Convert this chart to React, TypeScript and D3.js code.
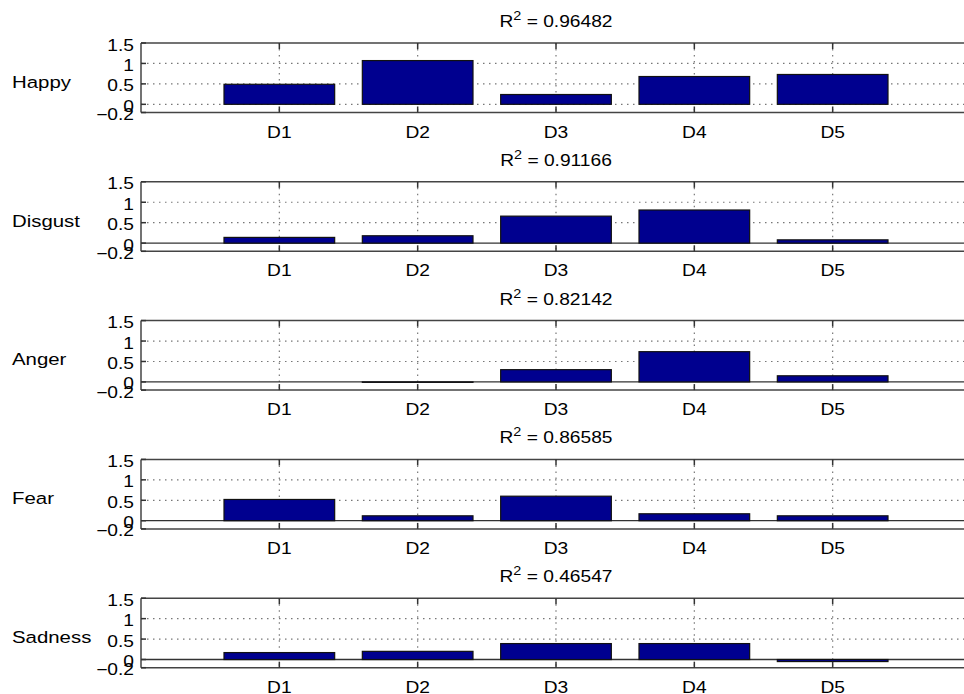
import React, { useEffect, useRef } from "react";
import * as d3 from "d3";

// categories and labels
const categories = ["D1", "D2", "D3", "D4", "D5"];
const emotions = ["Happy", "Disgust", "Anger", "Fear", "Sadness"];
const r2Labels = ["0.96482", "0.91166", "0.82142", "0.86585", "0.46547"];
const yTicks = [-0.2, 0, 0.5, 1, 1.5];
const yTickLabels = ["\u22120.2", "0", "0.5", "1", "1.5"];

// bar values
const happy = [0.49, 1.07, 0.24, 0.68, 0.73];
const disgust = [0.14, 0.18, 0.66, 0.81, 0.08];
const anger = [0, -0.01, 0.3, 0.74, 0.15];
const fear = [0.52, 0.12, 0.6, 0.17, 0.12];
const sadness = [0.17, 0.2, 0.39, 0.39, -0.05];

const series = [happy, disgust, anger, fear, sadness];

const W = 964, H = 694;
const font = "'Liberation Sans', Arial, Helvetica, sans-serif";
const stretch = 1.2; // the source glyphs are wider than Arial

const App = () => {
    const svgRef = useRef<SVGSVGElement>(null);

    useEffect(() => {
        const svg = d3.select(svgRef.current);
        svg.selectAll("*").remove();

        const left = 141, right = 971;
        const panelH = 69.5, panelStep = 138.8, firstTop = 43;

        // texte étiré horizontalement
        const label = (g, px, py, txt, size, anchor = "start") =>
            g.append("text")
                .attr("transform", `translate(${px},${py}) scale(${stretch},1)`)
                .attr("text-anchor", anchor)
                .style("font-family", font).style("font-size", size + "px")
                .text(txt);

        // x: positions 0..6, categories at 1..5
        const x = d3.scaleLinear().domain([0, 6]).range([left, right]);
        const barW = (x(1) - x(0)) * 0.8;

        series.forEach((values, i) => {
            const top = firstTop + i * panelStep;
            const bottom = top + panelH;
            const y = d3.scaleLinear().domain([-0.2, 1.5]).range([bottom, top]);
            const g = svg.append("g");

            // grid (dotted)
            const gridY = i === 0 ? [0, 0.5, 1] : [0.5, 1];
            g.selectAll("line.gy").data(gridY).enter().append("line")
                .attr("x1", left).attr("x2", right)
                .attr("y1", d => y(d)).attr("y2", d => y(d))
                .attr("stroke", "#777").attr("stroke-width", 1.2)
                .attr("stroke-dasharray", "1.5,4.5");
            g.selectAll("line.gx").data(categories).enter().append("line")
                .attr("x1", (d, j) => x(j + 1)).attr("x2", (d, j) => x(j + 1))
                .attr("y1", top).attr("y2", bottom)
                .attr("stroke", "#777").attr("stroke-width", 1.2)
                .attr("stroke-dasharray", "1.5,4.5");

            // baseline at zero
            if (i > 0) {
                g.append("line")
                    .attr("x1", left).attr("x2", right)
                    .attr("y1", y(0)).attr("y2", y(0))
                    .attr("stroke", "#333").attr("stroke-width", 1.3);
            }

            // bars
            g.selectAll("rect.bar").data(values).enter().append("rect")
                .attr("x", (d, j) => x(j + 1) - barW / 2)
                .attr("width", barW)
                .attr("y", d => y(Math.max(0, d)))
                .attr("height", d => Math.abs(y(d) - y(0)))
                .attr("fill", "#00008f")
                .attr("stroke", "#111")
                .attr("stroke-width", 1.2);

            // frame
            g.append("line").attr("x1", left).attr("x2", right).attr("y1", top).attr("y2", top)
                .attr("stroke", "#444").attr("stroke-width", 1.5);
            g.append("line").attr("x1", left).attr("x2", right).attr("y1", bottom).attr("y2", bottom)
                .attr("stroke", "#444").attr("stroke-width", 1.5);
            g.append("line").attr("x1", left).attr("x2", left).attr("y1", top).attr("y2", bottom)
                .attr("stroke", "#444").attr("stroke-width", 1.5);

            // x ticks (inward, top and bottom)
            categories.forEach((c, j) => {
                g.append("line").attr("x1", x(j + 1)).attr("x2", x(j + 1))
                    .attr("y1", bottom).attr("y2", bottom - 6)
                    .attr("stroke", "#333").attr("stroke-width", 1.5);
                g.append("line").attr("x1", x(j + 1)).attr("x2", x(j + 1))
                    .attr("y1", top).attr("y2", top + 6)
                    .attr("stroke", "#333").attr("stroke-width", 1.5);
                label(g, x(j + 1), bottom + 25, c, 16, "middle");
            });

            // y ticks
            yTicks.forEach((t, k) => {
                g.append("line").attr("x1", left).attr("x2", left + 5)
                    .attr("y1", y(t)).attr("y2", y(t))
                    .attr("stroke", "#333").attr("stroke-width", 1.5);
                label(g, 134, y(t) + 7.5, yTickLabels[k], 16, "end");
            });

            // emotion label
            label(g, 12, (top + bottom) / 2 + 10, emotions[i], 17);

            // title R^2
            const title = g.append("text")
                .attr("transform", `translate(${(left + right) / 2},${top - 16}) scale(${stretch},1)`)
                .attr("text-anchor", "middle")
                .style("font-family", font).style("font-size", "16px");
            title.append("tspan").text("R");
            title.append("tspan").attr("dy", -7).style("font-size", "12px").text("2");
            title.append("tspan").attr("dy", 7).text(" = " + r2Labels[i]);
        });
    }, []);

    return (
        <svg ref={svgRef} width={W} height={H}
            style={{ position: "absolute", left: 0, top: 0, background: "#fff" }} />
    );
};

export default App;
